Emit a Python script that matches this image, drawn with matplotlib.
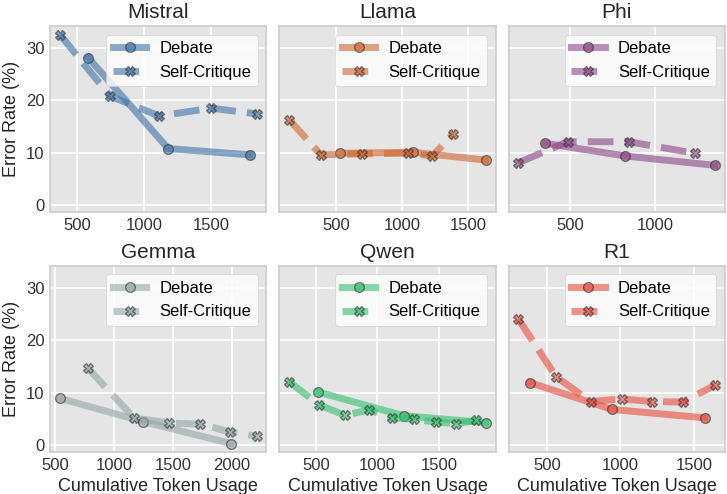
import matplotlib
matplotlib.use("Agg")
import matplotlib.pyplot as plt

plt.style.use('ggplot')
plt.rcParams['font.family'] = ['Liberation Sans', 'DejaVu Sans']

models = ['Mistral', 'Llama', 'Phi', 'Gemma', 'Qwen', 'R1']
colors = ['#3f72a8', '#cc6530', '#8e4585', '#95a5a6', '#33c06e', '#e74c3c']

# debate: (tokens, error rate)
debate_x = {
    'Mistral': [582, 1180, 1792],
    'Llama': [533, 1082, 1634],
    'Phi': [354, 822, 1356],
    'Gemma': [540, 1246, 1994],
    'Qwen': [519, 1215, 1880],
    'R1': [386, 943, 1573],
}
debate_y = {
    'Mistral': [28.1, 10.8, 9.6],
    'Llama': [9.9, 10.1, 8.6],
    'Phi': [11.8, 9.4, 7.6],
    'Gemma': [8.9, 4.5, 0.3],
    'Qwen': [10.1, 5.6, 4.3],
    'R1': [11.9, 6.8, 5.2],
}

# self-critique
sc_x = {
    'Mistral': [370, 745, 1112, 1502, 1842],
    'Llama': [146, 386, 697, 1044, 1229, 1388],
    'Phi': [194, 486, 846, 1237],
    'Gemma': [776, 1169, 1470, 1735, 1988, 2213],
    'Qwen': [283, 522, 734, 932, 1119, 1293, 1473, 1641, 1804],
    'R1': [307, 564, 798, 1011, 1218, 1423, 1643],
}
sc_y = {
    'Mistral': [32.5, 20.8, 17.0, 18.5, 17.4],
    'Llama': [16.3, 9.6, 9.8, 9.9, 9.4, 13.6],
    'Phi': [8.1, 12.1, 12.1, 9.9],
    'Gemma': [14.7, 5.2, 4.2, 4.0, 2.5, 1.7],
    'Qwen': [12.1, 7.7, 5.7, 6.7, 5.2, 4.9, 4.4, 4.1, 4.7],
    'R1': [24.0, 13.0, 8.3, 8.8, 8.3, 8.2, 11.4],
}

fig, axes = plt.subplots(2, 3, figsize=(7.27, 4.94), dpi=100, sharey=True)
fig.subplots_adjust(left=0.069, right=0.997, top=0.947, bottom=0.085,
                    wspace=0.06, hspace=0.29)

for i, (ax, name) in enumerate(zip(axes.flat, models)):
    c = colors[i]
    ax.plot(debate_x[name], debate_y[name], '-o', color=c, lw=5, alpha=0.6,
            markersize=7, markeredgecolor='#333333', markeredgewidth=1,
            label='Debate')
    ax.plot(sc_x[name], sc_y[name], '--X', color=c, lw=5, alpha=0.6,
            markersize=7, markeredgecolor='#333333', markeredgewidth=1,
            label='Self-Critique')
    ax.set_title(name, fontsize=15, color='#262626')
    ax.set_facecolor('#E5E5E5')
    for s in ax.spines.values():
        s.set_color('#cccccc')
        s.set_linewidth(1.2)
    ax.tick_params(length=0, labelsize=12, labelcolor='#333333', pad=4)
    ax.set_yticks([0, 10, 20, 30])
    ax.grid(color='white', lw=1.2)
    ax.legend(loc='upper right', fontsize=12, facecolor='white', framealpha=0.8,
              edgecolor='#cccccc')
    if i % 3 == 0:
        ax.set_ylabel('Error Rate (%)', fontsize=13, color='#262626')
    if i >= 3:
        ax.set_xlabel('Cumulative Token Usage', fontsize=13, color='#262626')

fig.savefig('out.png', dpi=100)
